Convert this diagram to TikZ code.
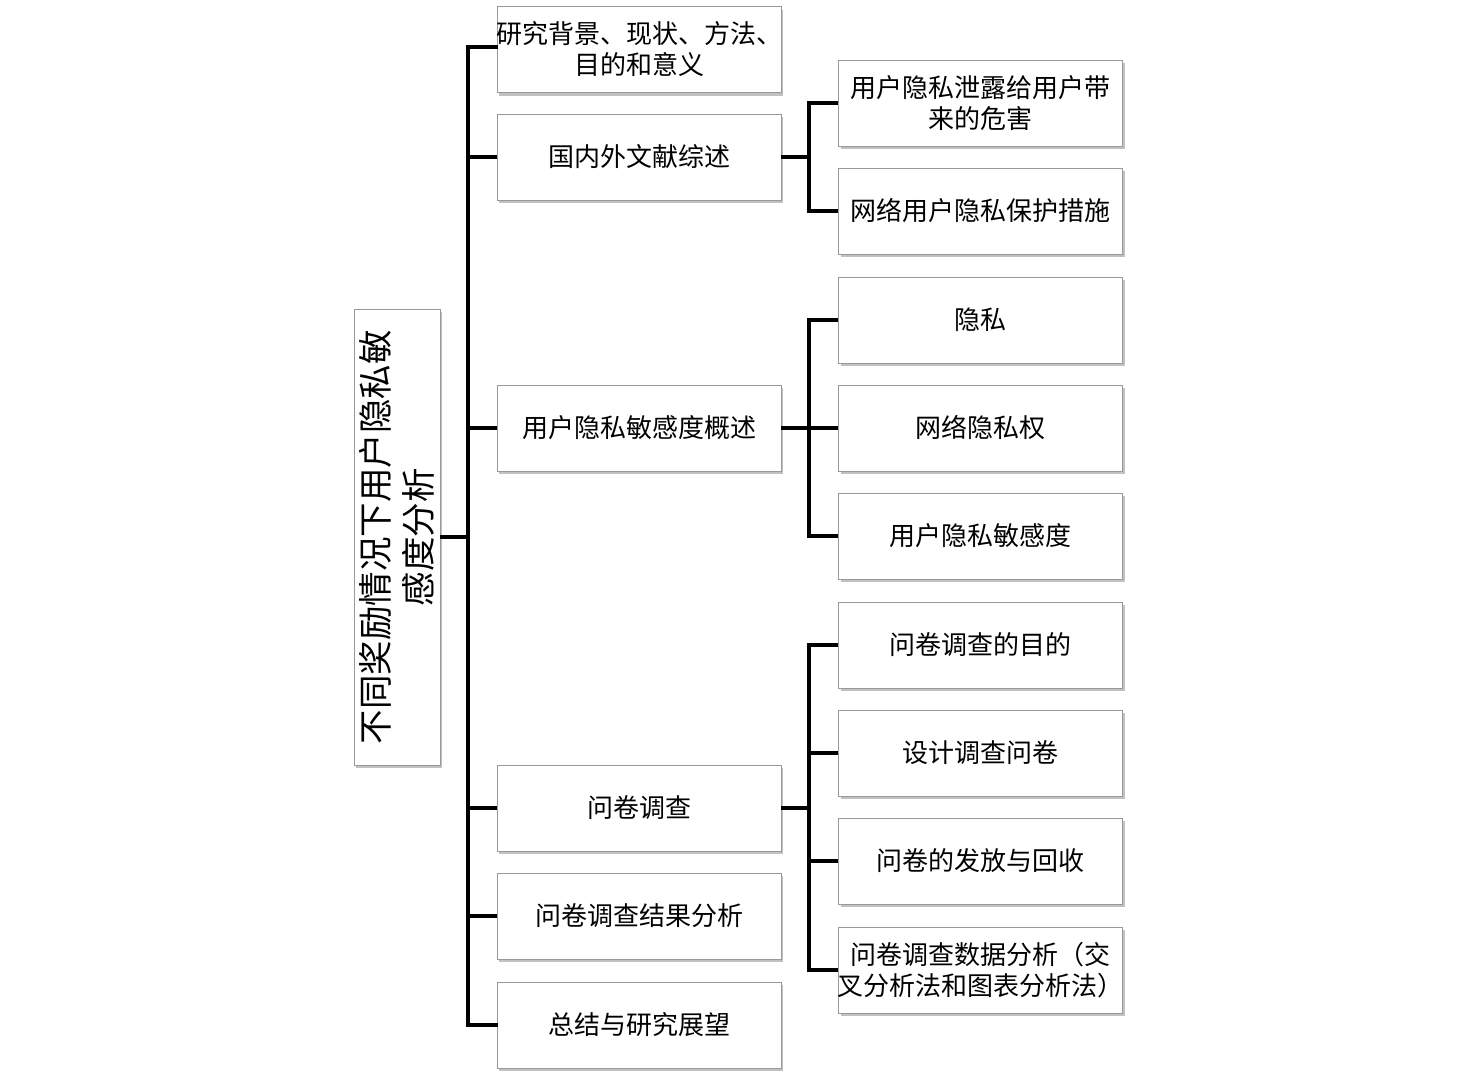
\documentclass[tikz,border=0pt]{standalone}
\usepackage{fontspec}
\setmainfont{Noto Sans CJK SC}
\usetikzlibrary{shadows}
\tikzset{
  box/.style={draw=gray!80, line width=0.8pt, fill=white, minimum width=284pt, minimum height=86pt,
    align=center, inner sep=0pt, font=\fontsize{26}{31}\selectfont,
    drop shadow={shadow xshift=2pt, shadow yshift=-3pt, fill=gray!70, opacity=0.7}},
  widetext/.style={inner xsep=-4pt},
  rootbox/.style={box, minimum width=456pt, minimum height=86pt, font=\fontsize{34.5}{43}\selectfont},
  link/.style={line width=3.3pt, black}
}
\begin{document}
\begin{tikzpicture}[x=1pt,y=-1pt]
\useasboundingbox (0,0) rectangle (1476,1080);
% root
\node[rootbox, rotate=90] (root) at (397,537) {不同奖励情况下用户隐私敏\\感度分析};
% level 1
\node[box, widetext] (a1) at (639,49.5) {研究背景、现状、方法、\\目的和意义};
\node[box] (a2) at (639,157) {国内外文献综述};
\node[box] (a3) at (639,428) {用户隐私敏感度概述};
\node[box] (a4) at (639,808) {问卷调查};
\node[box] (a5) at (639,916) {问卷调查结果分析};
\node[box] (a6) at (639,1025) {总结与研究展望};
% level 2
\node[box] (b1) at (980.5,103) {用户隐私泄露给用户带\\来的危害};
\node[box] (b2) at (980.5,211) {网络用户隐私保护措施};
\node[box] (b3) at (980.5,320) {隐私};
\node[box] (b4) at (980.5,428) {网络隐私权};
\node[box] (b5) at (980.5,536) {用户隐私敏感度};
\node[box] (b6) at (980.5,645) {问卷调查的目的};
\node[box] (b7) at (980.5,753) {设计调查问卷};
\node[box] (b8) at (980.5,861) {问卷的发放与回收};
\node[box, widetext] (b9) at (980.5,970) {问卷调查数据分析（交\\叉分析法和图表分析法）};
% spine coordinates
\coordinate (s0) at (468,537);
\coordinate (s1) at (809,157);
\coordinate (s2) at (809,428);
\coordinate (s3) at (809,808);
% root connectors
\draw[link] (root.south) -- (s0);
\draw[link, line cap=rect] (a1.west |- 0,47) -| (s0 |- 0,47) -- (s0 |- a6.west) -- (a6.west);
\foreach \n in {a2,a3,a4,a5} \draw[link] (s0 |- \n.west) -- (\n.west);
% group 1
\draw[link] (a2.east) -- (s1);
\draw[link] (b1.west) -| (s1 |- b1.west) -- (s1 |- b2.west) -- (b2.west);
% group 2
\draw[link] (a3.east) -- (s2);
\draw[link] (b3.west) -| (s2 |- b3.west) -- (s2 |- b5.west) -- (b5.west);
\draw[link] (s2 |- b4.west) -- (b4.west);
% group 3
\draw[link] (a4.east) -- (s3);
\draw[link] (b6.west) -| (s3 |- b6.west) -- (s3 |- b9.west) -- (b9.west);
\draw[link] (s3 |- b7.west) -- (b7.west);
\draw[link] (s3 |- b8.west) -- (b8.west);
\end{tikzpicture}
\end{document}
